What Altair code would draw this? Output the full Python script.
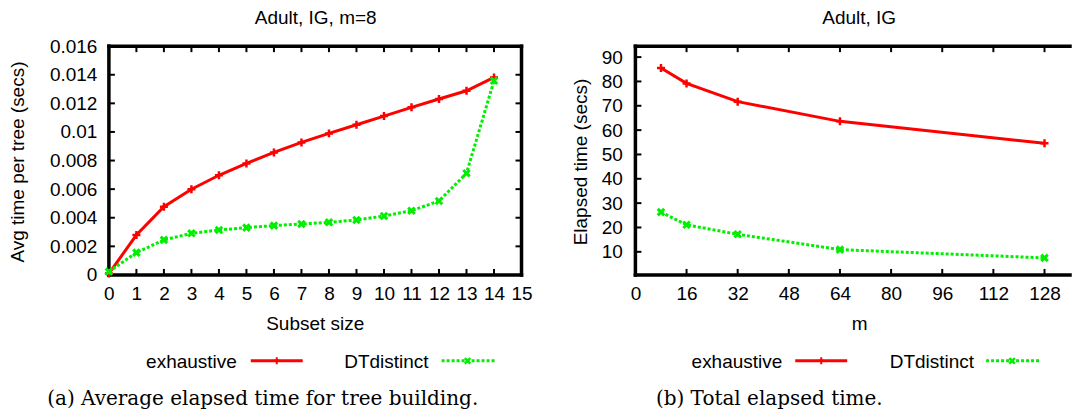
import altair as alt
import pandas as pd

# ---------------- data ----------------
subset_size = list(range(15))
exhaustive_a = [0.0001, 0.00279, 0.00477, 0.00599, 0.00697, 0.00780, 0.00857, 0.00927,
                0.00990, 0.0105, 0.01111, 0.01172, 0.0123, 0.01288, 0.01381]
dtdistinct_a = [0.00023, 0.00156, 0.00245, 0.00291, 0.00314, 0.00331, 0.00345, 0.00356,
                0.00368, 0.00384, 0.00412, 0.00449, 0.00517, 0.00711, 0.01358]

m_values = [8, 16, 32, 64, 128]
exhaustive_b = [85.5, 79.2, 71.7, 63.6, 54.6]
dtdistinct_b = [26.3, 21.1, 17.2, 10.9, 7.5]

x_ticks_a = list(range(16))
y_ticks_a = [0, 0.002, 0.004, 0.006, 0.008, 0.01, 0.012, 0.014, 0.016]
x_ticks_b = [0, 16, 32, 48, 64, 80, 96, 112, 128]
y_ticks_b = [10, 20, 30, 40, 50, 60, 70, 80, 90]

series_names = ["exhaustive", "DTdistinct"]
series_colors = ["#ff0000", "#00ee00"]

SANS = "Liberation Sans"
SERIF = "DejaVu Serif"
FS = 19
PLUS = "M-1,0L1,0M0,-1L0,1"
CROSS = "M-1,-1L1,1M-1,1L1,-1"
BORDER = 3.5


def panel(xs, ys_exh, ys_dtd, xdom, ydom, W, H, xticks, yticks, yfmt,
          title, title_x, xtitle, xtitle_x, ytitle, ytitle_x, ylabpad,
          legend, caption, caption_x, anchor, right_border=True):
    df = pd.DataFrame({"x": xs + xs,
                       "y": ys_exh + ys_dtd,
                       "s": [series_names[0]] * len(xs) + [series_names[1]] * len(xs)})
    xs_scale = alt.Scale(domain=xdom, nice=False, zero=False)
    ys_scale = alt.Scale(domain=ydom, nice=False, zero=False)
    dummy = pd.DataFrame({"a": [0]})

    x_axis = alt.Axis(values=xticks, ticks=False, tickSize=0, domain=False, grid=False,
                      labelFont=SANS, labelFontSize=FS, labelColor="black",
                      labelBaseline="alphabetic", labelPadding=25, labelFlush=False,
                      title=xtitle, titleFont=SANS, titleFontSize=FS, titleFontWeight="normal",
                      titleColor="black", titleX=xtitle_x, titleY=55, titleAlign="center",
                      titleBaseline="alphabetic")
    y_axis = alt.Axis(values=yticks, ticks=False, tickSize=0, domain=False, grid=False,
                      format=yfmt, labelFont=SANS, labelFontSize=FS, labelColor="black",
                      labelPadding=ylabpad, labelFlush=False,
                      title=ytitle, titleFont=SANS, titleFontSize=FS, titleFontWeight="normal",
                      titleColor="black", titleX=ytitle_x, titleY=H / 2 + 1, titleAngle=270,
                      titleAlign="center", titleBaseline="alphabetic")

    def X(f):
        return alt.X(f, scale=xs_scale, axis=x_axis, title=xtitle)

    def Y(f):
        return alt.Y(f, scale=ys_scale, axis=y_axis, title=ytitle)

    layers = []

    # inward ticks
    xt = pd.DataFrame({"x": xticks})
    yt = pd.DataFrame({"y": yticks})
    tk = dict(color="black", strokeWidth=2)
    layers.append(alt.Chart(xt).mark_rule(**tk).encode(
        x=X("x:Q"), y=alt.value(H), y2=alt.value(H - 6)))
    layers.append(alt.Chart(xt).mark_rule(**tk).encode(
        x=X("x:Q"), y=alt.value(0), y2=alt.value(6)))
    layers.append(alt.Chart(yt).mark_rule(**tk).encode(
        y=Y("y:Q"), x=alt.value(0), x2=alt.value(6)))
    if right_border:
        layers.append(alt.Chart(yt).mark_rule(**tk).encode(
            y=Y("y:Q"), x=alt.value(W), x2=alt.value(W - 6)))

    # border
    bd = dict(color="black", strokeWidth=BORDER, strokeCap="square")
    right_edge = W if right_border else W - 2
    layers.append(alt.Chart(dummy).mark_rule(**bd).encode(
        x=alt.value(0), x2=alt.value(right_edge), y=alt.value(0)))
    layers.append(alt.Chart(dummy).mark_rule(**bd).encode(
        x=alt.value(0), x2=alt.value(right_edge), y=alt.value(H)))
    layers.append(alt.Chart(dummy).mark_rule(**bd).encode(
        x=alt.value(0), y=alt.value(0), y2=alt.value(H)))
    if right_border:
        layers.append(alt.Chart(dummy).mark_rule(**bd).encode(
            x=alt.value(W), y=alt.value(0), y2=alt.value(H)))

    # data lines + points
    exh = alt.Chart(df).transform_filter(alt.datum.s == series_names[0])
    dtd = alt.Chart(df).transform_filter(alt.datum.s == series_names[1])
    enc = dict(x=X("x:Q"), y=Y("y:Q"))
    layers.append(exh.mark_line(color=series_colors[0], strokeWidth=3).encode(**enc))
    layers.append(exh.mark_point(shape=PLUS, filled=False, size=64, strokeWidth=2.5,
                                 color=series_colors[0], opacity=1).encode(**enc))
    layers.append(dtd.mark_line(color=series_colors[1], strokeWidth=3, strokeDash=[3, 2]).encode(**enc))
    layers.append(dtd.mark_point(shape=CROSS, filled=False, size=42, strokeWidth=3,
                                 color=series_colors[1], opacity=1).encode(**enc))

    # title
    layers.append(alt.Chart(dummy).mark_text(text=title, font=SANS, fontSize=FS, color="black",
                                             align="center", baseline="alphabetic").encode(
        x=alt.value(title_x), y=alt.value(-22)))

    # legend
    (t1x, l1a, l1b, p1), (t2x, l2a, l2b, p2) = legend
    ly = 315
    lt = dict(font=SANS, fontSize=FS, color="black", align="right", baseline="alphabetic")
    layers.append(alt.Chart(dummy).mark_text(text=series_names[0], **lt).encode(
        x=alt.value(t1x), y=alt.value(ly + 7)))
    layers.append(alt.Chart(dummy).mark_text(text=series_names[1], **lt).encode(
        x=alt.value(t2x), y=alt.value(ly + 7)))
    layers.append(alt.Chart(dummy).mark_rule(color=series_colors[0], strokeWidth=3).encode(
        x=alt.value(l1a), x2=alt.value(l1b), y=alt.value(ly)))
    layers.append(alt.Chart(dummy).mark_point(shape=PLUS, filled=False, size=49, strokeWidth=2,
                                              color=series_colors[0], opacity=1).encode(
        x=alt.value(p1), y=alt.value(ly)))
    layers.append(alt.Chart(dummy).mark_rule(color=series_colors[1], strokeWidth=3,
                                             strokeDash=[3, 2]).encode(
        x=alt.value(l2a), x2=alt.value(l2b), y=alt.value(ly)))
    layers.append(alt.Chart(dummy).mark_point(shape=CROSS, filled=False, size=30, strokeWidth=2.5,
                                              color=series_colors[1], opacity=1).encode(
        x=alt.value(p2), y=alt.value(ly)))

    # caption
    layers.append(alt.Chart(dummy).mark_text(text=caption, font=SERIF, fontSize=20, color="black",
                                             align="center", baseline="alphabetic").encode(
        x=alt.value(caption_x), y=alt.value(359)))

    # invisible layout anchor
    (ax1, ay) = anchor
    layers.append(alt.Chart(dummy).mark_rule(opacity=0, strokeWidth=0).encode(
        x=alt.value(ax1), x2=alt.value(ax1 + 5), y=alt.value(ay)))

    return alt.layer(*layers).properties(width=W, height=H)


WA, HA = 413, 229
WB, HB = 437, 229

left = panel(subset_size, exhaustive_a, dtdistinct_a, [0, 15], [0, 0.016], WA, HA,
             x_ticks_a, y_ticks_a, "~g",
             "Adult, IG, m=8", 207, "Subset size", 206, "Avg time per tree (secs)", -85, 12,
             legend=((128, 142, 194, 168), (320, 333, 386, 359)),
             caption="(a) Average elapsed time for tree building.", caption_x=154,
             anchor=(-109, -46))

right = panel(m_values, exhaustive_b, dtdistinct_b, [0, 136.6], [0.5, 94.5], WB, HB,
              x_ticks_b, y_ticks_b, "d",
              "Adult, IG", 224, "m", 224, "Elapsed time (secs)", -49, 13,
              legend=((147, 160, 212, 186), (339, 351, 404, 377)),
              caption="(b) Total elapsed time.", caption_x=134,
              anchor=(WB - 5, 371), right_border=False)

chart = alt.hconcat(left, right, spacing=114, bounds="flush").configure_view(
    strokeWidth=0).properties(padding=0, background="white")

chart.save("out.html", embed_options={"renderer": "svg", "actions": False})
